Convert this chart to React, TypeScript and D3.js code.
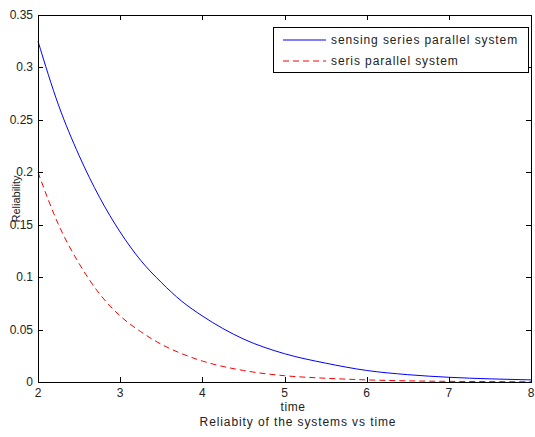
import { useEffect, useRef } from 'react';
import * as d3 from 'd3';

const times = [2, 2.25, 2.5, 2.75, 3, 3.25, 3.5, 3.75, 4, 4.5, 5, 5.5, 6, 6.5, 7, 7.5, 8];
const sensingSeries = [0.325, 0.264, 0.216, 0.176, 0.143, 0.116, 0.095, 0.077, 0.063, 0.041, 0.027, 0.018, 0.011, 0.007, 0.0045, 0.003, 0.002];
const serisSeries = [0.2, 0.15, 0.113, 0.084, 0.063, 0.048, 0.036, 0.027, 0.02, 0.011, 0.006, 0.0036, 0.002, 0.0011, 0.0006, 0.0004, 0.0002];
const xTicks = [2, 3, 4, 5, 6, 7, 8];
const yTicks = [0, 0.05, 0.1, 0.15, 0.2, 0.25, 0.3, 0.35];
const legendLabels = ['sensing series parallel system', 'seris parallel system'];

const W = 535, H = 437;
const FONT = 'Arial, "Liberation Sans", Helvetica, sans-serif';
const INK = '#222';

export default function App() {
  const svgRef = useRef<SVGSVGElement>(null);

  useEffect(() => {
    const svg = d3.select(svgRef.current);
    svg.selectAll('*').remove();

    const left = 38, right = 531, top = 15, bottom = 382;
    const x = d3.scaleLinear().domain([2, 8]).range([left, right]);
    const y = d3.scaleLinear().domain([0, 0.35]).range([bottom, top]);

    svg.append('rect').attr('width', W).attr('height', H).attr('fill', '#fff');

    const line = d3.line<number>()
      .x((_, i) => x(times[i]))
      .y(d => y(d))
      .curve(d3.curveMonotoneX);

    svg.append('path').datum(sensingSeries)
      .attr('fill', 'none').attr('stroke', '#0000ff').attr('stroke-width', 1)
      .attr('d', line);
    svg.append('path').datum(serisSeries)
      .attr('fill', 'none').attr('stroke', '#ff0000').attr('stroke-width', 1)
      .attr('stroke-dasharray', '6,4')
      .attr('d', line);

    // axes box with inward ticks on all four sides
    const g = svg.append('g').attr('shape-rendering', 'crispEdges');
    g.append('rect')
      .attr('x', left + 0.5).attr('y', top + 0.5)
      .attr('width', right - left).attr('height', bottom - top)
      .attr('fill', 'none').attr('stroke', '#000');

    const tick = 5;
    xTicks.forEach(t => {
      const px = Math.round(x(t)) + 0.5;
      g.append('line').attr('x1', px).attr('x2', px).attr('y1', bottom).attr('y2', bottom - tick).attr('stroke', '#000');
      g.append('line').attr('x1', px).attr('x2', px).attr('y1', top).attr('y2', top + tick).attr('stroke', '#000');
      svg.append('text').attr('x', x(t)).attr('y', bottom + 15)
        .attr('text-anchor', 'middle').attr('font-family', FONT).attr('font-size', 12).attr('fill', INK)
        .text(t);
    });
    yTicks.forEach(t => {
      const py = Math.round(y(t)) + 0.5;
      g.append('line').attr('x1', left).attr('x2', left + tick).attr('y1', py).attr('y2', py).attr('stroke', '#000');
      g.append('line').attr('x1', right).attr('x2', right - tick).attr('y1', py).attr('y2', py).attr('stroke', '#000');
      svg.append('text').attr('x', left - 5).attr('y', y(t) + 4)
        .attr('text-anchor', 'end').attr('font-family', FONT).attr('font-size', 12).attr('fill', INK)
        .text(d3.format('~g')(t));
    });

    // labels
    svg.append('text').attr('x', 293).attr('y', 411)
      .attr('text-anchor', 'middle').attr('font-family', FONT).attr('font-size', 12)
      .attr('letter-spacing', 0.6).attr('fill', INK)
      .text('time');
    svg.append('text').attr('x', 298).attr('y', 426)
      .attr('text-anchor', 'middle').attr('font-family', FONT).attr('font-size', 12)
      .attr('letter-spacing', 0.9).attr('fill', INK)
      .text('Reliabity of the systems vs time');
    svg.append('text').attr('transform', `translate(20,199) rotate(-90)`)
      .attr('text-anchor', 'middle').attr('font-family', FONT).attr('font-size', 11)
      .attr('fill', INK)
      .text('Reliability');

    // legend
    const lg = svg.append('g');
    lg.append('rect').attr('x', 273.5).attr('y', 27.5).attr('width', 255).attr('height', 45)
      .attr('fill', '#fff').attr('stroke', '#000').attr('shape-rendering', 'crispEdges');
    const colors = ['#0000ff', '#ff0000'];
    legendLabels.forEach((lab, i) => {
      const ly = 40 + i * 21;
      lg.append('line').attr('x1', 283).attr('x2', 326).attr('y1', ly).attr('y2', ly)
        .attr('stroke', colors[i]).attr('stroke-width', 1)
        .attr('stroke-dasharray', i === 1 ? '6,4' : null);
      lg.append('text').attr('x', 331).attr('y', ly + 4)
        .attr('font-family', FONT).attr('font-size', 12).attr('letter-spacing', 0.9).attr('fill', INK)
        .text(lab);
    });
  }, []);

  return (
    <svg ref={svgRef} width={W} height={H} style={{ position: 'absolute', left: 0, top: 0 }} />
  );
}
